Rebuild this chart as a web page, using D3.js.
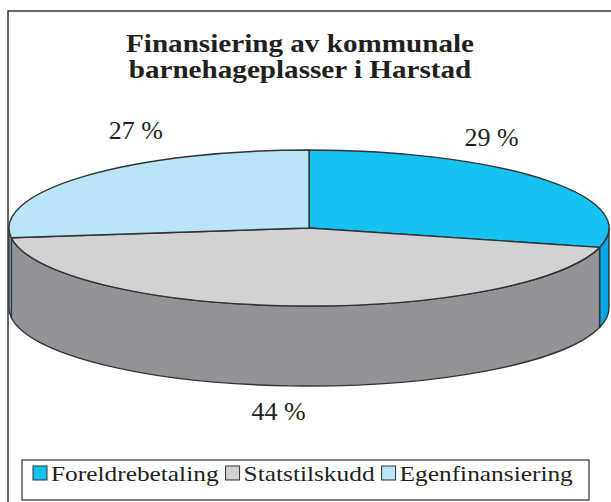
<!DOCTYPE html>
<html>
<head>
<meta charset="utf-8">
<script src="https://cdn.jsdelivr.net/npm/d3@7"></script>
<style>
  body { margin: 0; background: #fff; }
  svg { display: block; }
  text { font-family: "Liberation Serif", "Times New Roman", serif; fill: #231f20; }
</style>
</head>
<body>
<div id="chart"></div>
<script>
var width = 611;
var height = 502;

// data
var categories = ["Foreldrebetaling", "Statstilskudd", "Egenfinansiering"];
var values = [29, 44, 27];
var labels = ["29 %", "44 %", "27 %"];
var titleLines = ["Finansiering av kommunale", "barnehageplasser i Harstad"];

var topColours = ["#14c1f1", "#d1d2d4", "#b9e5f9"];
var sideColours = ["#00a9e6", "#929397", "#8fc3dc"];

var svg = d3.select("#chart")
  .append("svg")
  .attr("width", width)
  .attr("height", height);

// outer frame (runs off the right and bottom edges)
svg.append("rect")
  .attr("x", 8).attr("y", 11)
  .attr("width", 700).attr("height", 600)
  .attr("fill", "none")
  .attr("stroke", "#333")
  .attr("stroke-width", 1.5);

// title
svg.selectAll(".title")
  .data(titleLines)
  .enter().append("text")
  .attr("class", "title")
  .attr("text-anchor", "middle")
  .attr("transform", function(d, i) { return "translate(300," + (52 + i * 26) + ") scale(1.19,1)"; })
  .style("font-size", "24.5px")
  .style("font-weight", "bold")
  .text(function(d) { return d; });

// pie geometry
var cx = 309, cy = 228, rx = 300, ry = 78, depth = 80;

var pie = d3.pie().sort(null).value(function(d) { return d; });
var arcs = pie(values);

function pt(a, dy) {
  return [cx + rx * Math.sin(a), cy - ry * Math.cos(a) + (dy || 0)];
}

//Side walls: only the front half (pi/2 .. 3pi/2) is visible
var g = svg.append("g");
arcs.forEach(function(d, i) {
  var s = Math.max(d.startAngle, Math.PI / 2);
  var e = Math.min(d.endAngle, 3 * Math.PI / 2);
  if (e <= s) return;
  var p0 = pt(s), p1 = pt(e), p2 = pt(e, depth), p3 = pt(s, depth);
  var path = "M" + p0 + " A" + rx + "," + ry + " 0 0 1 " + p1 +
    " L" + p2 + " A" + rx + "," + ry + " 0 0 0 " + p3 + " Z";
  g.append("path")
    .attr("d", path)
    .attr("fill", sideColours[i])
    .attr("stroke", "#333")
    .attr("stroke-width", 1.4)
    .attr("stroke-linejoin", "round");
});

// top faces
arcs.forEach(function(d, i) {
  var p0 = pt(d.startAngle), p1 = pt(d.endAngle);
  var large = (d.endAngle - d.startAngle) > Math.PI ? 1 : 0;
  var path = "M" + cx + "," + cy + " L" + p0 + " A" + rx + "," + ry + " 0 " + large + " 1 " + p1 + " Z";
  g.append("path")
    .attr("d", path)
    .attr("fill", topColours[i])
    .attr("stroke", "#333")
    .attr("stroke-width", 1.4)
    .attr("stroke-linejoin", "round");
});

// percentage labels
svg.selectAll(".lbl")
  .data(arcs)
  .enter().append("text")
  .attr("class", "lbl")
  .attr("text-anchor", "middle")
  .attr("dy", "0.35em")
  .attr("transform", function(d) {
    var m = (d.startAngle + d.endAngle) / 2;
    var c = Math.cos(m);
    var x = cx + 0.77 * rx * Math.sin(m) - (c < 0 ? 16 : 0);
    var y = c > 0 ? cy - (ry + 70) * c : cy - (ry + 25) * c + depth;
    return "translate(" + x + "," + y + ")";
  })
  .style("font-size", "26px")
  .text(function(d, i) { return labels[i]; });

// legend
var legend = svg.append("g");
legend.append("rect")
  .attr("x", 22).attr("y", 460)
  .attr("width", 567).attr("height", 40)
  .attr("fill", "#fff")
  .attr("stroke", "#333")
  .attr("stroke-width", 1.2);

var lx = 33, sx = 1.18;
categories.forEach(function(c, i) {
  legend.append("rect")
    .attr("x", lx).attr("y", 466)
    .attr("width", 14).attr("height", 14)
    .attr("fill", topColours[i])
    .attr("stroke", "#333")
    .attr("stroke-width", 1);
  var t = legend.append("text")
    .attr("transform", "translate(" + (lx + 18) + ",481) scale(" + sx + ",1)")
    .style("font-size", "21.5px")
    .text(c);
  lx += 18 + t.node().getComputedTextLength() * sx + 7;
});
</script>
</body>
</html>
